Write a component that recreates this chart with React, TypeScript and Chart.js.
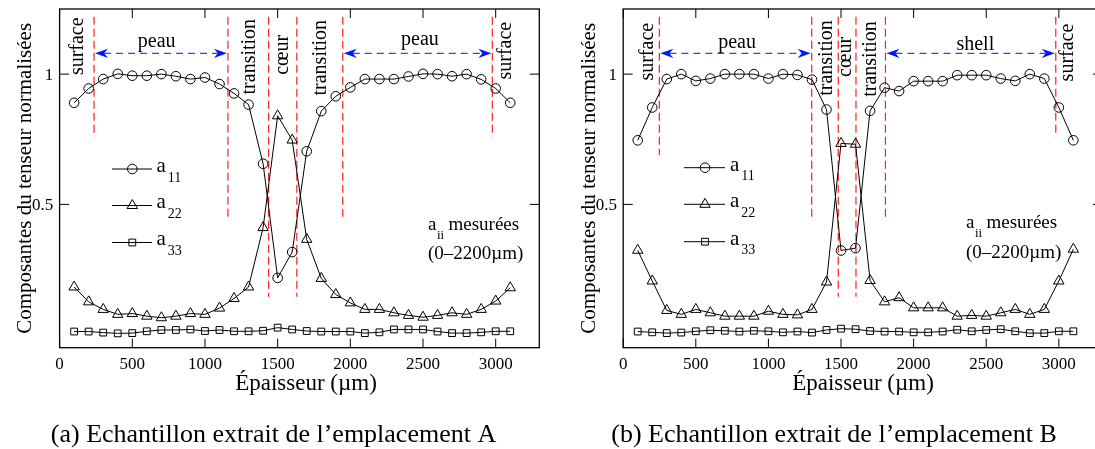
import React, { useEffect, useRef } from 'react';
import { Chart, registerables } from 'chart.js';
Chart.register(...registerables);

// ---------- data ----------
const thickness = [100, 200, 300, 400, 500, 600, 700, 800, 900, 1000, 1100, 1200, 1300, 1400, 1500, 1600,
  1700, 1800, 1900, 2000, 2100, 2200, 2300, 2400, 2500, 2600, 2700, 2800, 2900, 3000, 3100];

const a11A = [0.890, 0.945, 0.981, 1.001, 0.994, 0.994, 1.000, 0.992, 0.981, 0.987, 0.962, 0.926, 0.883, 0.656, 0.218, 0.317,
  0.704, 0.858, 0.915, 0.949, 0.981, 0.981, 0.981, 0.991, 1.001, 1.000, 0.992, 1.000, 0.980, 0.945, 0.890];
const a22A = [0.183, 0.126, 0.097, 0.078, 0.081, 0.071, 0.065, 0.071, 0.081, 0.078, 0.102, 0.139, 0.183, 0.411, 0.840, 0.747,
  0.366, 0.216, 0.154, 0.122, 0.097, 0.097, 0.084, 0.074, 0.067, 0.074, 0.084, 0.078, 0.097, 0.129, 0.180];
const a33A = [0.012, 0.012, 0.008, 0.005, 0.006, 0.013, 0.018, 0.018, 0.020, 0.014, 0.018, 0.013, 0.013, 0.015, 0.027, 0.020,
  0.014, 0.012, 0.012, 0.012, 0.006, 0.009, 0.020, 0.020, 0.020, 0.012, 0.006, 0.006, 0.009, 0.013, 0.013];

const a11B = [0.746, 0.872, 0.981, 1.000, 0.974, 0.983, 1.000, 1.000, 1.000, 0.983, 1.000, 0.997, 0.979, 0.864, 0.323, 0.332,
  0.859, 0.948, 0.935, 0.973, 0.973, 0.973, 0.996, 0.996, 0.996, 0.983, 0.974, 1.000, 0.983, 0.872, 0.746];
const a22B = [0.324, 0.206, 0.093, 0.078, 0.097, 0.084, 0.071, 0.071, 0.071, 0.090, 0.078, 0.076, 0.097, 0.202, 0.734, 0.731,
  0.208, 0.126, 0.142, 0.103, 0.103, 0.103, 0.071, 0.074, 0.071, 0.084, 0.097, 0.078, 0.097, 0.206, 0.328];
const a33B = [0.012, 0.009, 0.006, 0.008, 0.013, 0.017, 0.015, 0.012, 0.015, 0.013, 0.009, 0.012, 0.008, 0.018, 0.023, 0.021,
  0.014, 0.012, 0.012, 0.009, 0.009, 0.012, 0.019, 0.013, 0.018, 0.021, 0.013, 0.006, 0.006, 0.013, 0.013];

const xTicks = [0, 500, 1000, 1500, 2000, 2500, 3000];
const xTickLabels = ['0', '500', '1000', '1500', '2000', '2500', '3000'];
const yTicks = [0.5, 1];
const yTickLabels = ['0.5', '1'];
const seriesSubs = ['11', '22', '33'];
const seriesStyles = ['circle', 'triangle', 'rect'];

// zone boundaries (µm) and lower end of each dashed line
const boundsA = [237, 1158, 1438, 1632, 1948, 2977];
const lowsA = [0.759, 0.453, 0.146, 0.146, 0.453, 0.759];
const boundsB = [249, 1298, 1481, 1603, 1806, 2979];
const lowsB = [0.689, 0.453, 0.146, 0.146, 0.453, 0.759];

const FONT = '"Liberation Serif", "Times New Roman", Times, serif';
const X_MIN = 0, X_MAX = 3300, Y_MIN = -0.05, Y_MAX = 1.25;
const ZONE_TOP = 1.22;
const ARROW_Y = 1.08;

interface Panel {
  ox: number; width: number; padL: number; padR: number;
  a11: number[]; a22: number[]; a33: number[];
  bounds: number[]; lows: number[];
  arrows: number[][];
  rot: { t: string; x: number; y: number }[];
  hor: { t: string; x: number; y: number }[];
  leg: { x1: number; x2: number; xm: number; tx: number; rows: number[] };
  note: { x: number; y1: number; y2: number };
  yTitleX: number; xTitleX: number; cap: string; capX: number;
}

const panelA: Panel = {
  ox: 0, width: 548, padL: 59.6, padR: 8.7,
  a11: a11A, a22: a22A, a33: a33A,
  bounds: boundsA, lows: lowsA,
  arrows: [[0, 1], [4, 5]],
  rot: [
    { t: 'surface', x: 161, y: 1.107 },
    { t: 'transition', x: 1344, y: 1.067 },
    { t: 'cœur', x: 1571, y: 1.074 },
    { t: 'transition', x: 1833, y: 1.063 },
    { t: 'surface', x: 3105, y: 1.09 },
  ],
  hor: [
    { t: 'peau', x: 668, y: 1.106 },
    { t: 'peau', x: 2479, y: 1.112 },
  ],
  leg: { x1: 112, x2: 152, xm: 132.3, tx: 156.5, rows: [169, 205.5, 242.5] },
  note: { x: 428, y1: 230, y2: 259 },
  yTitleX: 31, xTitleX: 306, cap: '(a) Echantillon extrait de l’emplacement A', capX: 273.5,
};

const panelB: Panel = {
  ox: 548, width: 562, padL: 75.2, padR: 7.6,
  a11: a11B, a22: a22B, a33: a33B,
  bounds: boundsB, lows: lowsB,
  arrows: [[0, 1], [4, 5]],
  rot: [
    { t: 'surface', x: 202, y: 1.086 },
    { t: 'transition', x: 1438, y: 1.062 },
    { t: 'cœur', x: 1572, y: 1.066 },
    { t: 'transition', x: 1738, y: 1.058 },
    { t: 'surface', x: 3098, y: 1.083 },
  ],
  hor: [
    { t: 'peau', x: 784, y: 1.099 },
    { t: 'shell', x: 2425, y: 1.093 },
  ],
  leg: { x1: 684, x2: 725, xm: 705, tx: 730, rows: [167.7, 204.3, 241.7] },
  note: { x: 966, y1: 228, y2: 258 },
  yTitleX: 594.5, xTitleX: 863, cap: '(b) Echantillon extrait de l’emplacement B', capX: 834,
};

function drawMarker(ctx: CanvasRenderingContext2D, style: string, x: number, y: number) {
  ctx.beginPath();
  if (style === 'circle') {
    ctx.arc(x, y, 4.8, 0, Math.PI * 2);
  } else if (style === 'triangle') {
    const r = 6;
    ctx.moveTo(x, y - r);
    ctx.lineTo(x + r * 0.866, y + r * 0.5);
    ctx.lineTo(x - r * 0.866, y + r * 0.5);
    ctx.closePath();
  } else {
    const s = 4.8 * Math.SQRT1_2;
    ctx.rect(x - s, y - s, 2 * s, 2 * s);
  }
  ctx.stroke();
}

function arrowHead(ctx: CanvasRenderingContext2D, tipX: number, y: number, dir: number) {
  // dir = -1 points left, +1 points right
  const L = 13, H = 4.6, N = 9;
  ctx.beginPath();
  ctx.moveTo(tipX, y);
  ctx.lineTo(tipX - dir * L, y - H);
  ctx.lineTo(tipX - dir * N, y);
  ctx.lineTo(tipX - dir * L, y + H);
  ctx.closePath();
  ctx.fill();
}

function makePlugin(p: Panel) {
  return {
    id: 'decor',
    beforeDatasetsDraw(chart: any) {
      const ctx: CanvasRenderingContext2D = chart.ctx;
      const xs = chart.scales.x, ys = chart.scales.y;
      ctx.save();
      // red dashed zone lines
      ctx.strokeStyle = 'rgb(255,30,30)';
      ctx.lineWidth = 1.2;
      ctx.setLineDash([8, 4]);
      p.bounds.forEach((b, i) => {
        const px = xs.getPixelForValue(b);
        ctx.beginPath();
        ctx.moveTo(px, ys.getPixelForValue(ZONE_TOP));
        ctx.lineTo(px, ys.getPixelForValue(p.lows[i]));
        ctx.stroke();
      });
      // blue arrows
      ctx.strokeStyle = 'rgb(40,70,255)';
      ctx.fillStyle = 'rgb(0,20,255)';
      ctx.lineWidth = 1.2;
      const ay = ys.getPixelForValue(ARROW_Y);
      p.arrows.forEach(([i0, i1]) => {
        const x0 = xs.getPixelForValue(p.bounds[i0]) + 1;
        const x1 = xs.getPixelForValue(p.bounds[i1]) - 1;
        ctx.setLineDash([7, 5]);
        ctx.beginPath();
        ctx.moveTo(x0 + 9, ay);
        ctx.lineTo(x1 - 9, ay);
        ctx.stroke();
        ctx.setLineDash([]);
        arrowHead(ctx, x0, ay, -1);
        arrowHead(ctx, x1, ay, 1);
      });
      // zone labels
      ctx.fillStyle = '#000';
      ctx.font = `20px ${FONT}`;
      ctx.textBaseline = 'alphabetic';
      ctx.textAlign = 'center';
      p.rot.forEach((l) => {
        ctx.save();
        ctx.translate(xs.getPixelForValue(l.x), ys.getPixelForValue(l.y));
        ctx.rotate(-Math.PI / 2);
        ctx.fillText(l.t, 0, 0);
        ctx.restore();
      });
      p.hor.forEach((l) => {
        ctx.fillText(l.t, xs.getPixelForValue(l.x), ys.getPixelForValue(l.y));
      });
      ctx.restore();
    },
    afterDraw(chart: any) {
      const ctx: CanvasRenderingContext2D = chart.ctx;
      const xs = chart.scales.x, ys = chart.scales.y;
      const { left, right, top, bottom } = chart.chartArea;
      const o = p.ox;
      ctx.save();
      ctx.strokeStyle = '#000';
      ctx.fillStyle = '#000';
      ctx.setLineDash([]);
      // frame
      ctx.lineWidth = 1.3;
      ctx.strokeRect(left, top, right - left, bottom - top);
      // inward ticks
      ctx.lineWidth = 1;
      ctx.beginPath();
      xTicks.forEach((v) => {
        const px = xs.getPixelForValue(v);
        ctx.moveTo(px, bottom); ctx.lineTo(px, bottom - 9);
        ctx.moveTo(px, top); ctx.lineTo(px, top + 9);
      });
      yTicks.forEach((v) => {
        const py = ys.getPixelForValue(v);
        ctx.moveTo(left, py); ctx.lineTo(left + 9.5, py);
        ctx.moveTo(right, py); ctx.lineTo(right - 9.5, py);
      });
      ctx.stroke();
      // tick labels
      ctx.font = `17px ${FONT}`;
      ctx.textBaseline = 'alphabetic';
      ctx.textAlign = 'center';
      xTicks.forEach((v, i) => ctx.fillText(xTickLabels[i], xs.getPixelForValue(v), 368.5));
      ctx.textAlign = 'right';
      yTicks.forEach((v, i) => ctx.fillText(yTickLabels[i], left - 6.3, ys.getPixelForValue(v) + 5.8));
      // axis titles
      ctx.textAlign = 'center';
      ctx.font = `23px ${FONT}`;
      ctx.fillText('Épaisseur (µm)', p.xTitleX - o, 390);
      ctx.save();
      ctx.font = `21px ${FONT}`;
      ctx.translate(p.yTitleX - o, (top + bottom) / 2);
      ctx.rotate(-Math.PI / 2);
      ctx.fillText('Composantes du tenseur normalisées', 0, 0);
      ctx.restore();
      // caption
      ctx.font = `26px ${FONT}`;
      ctx.fillText(p.cap, p.capX - o, 441.7);
      // legend
      const L = p.leg;
      ctx.textAlign = 'left';
      L.rows.forEach((ry, i) => {
        ctx.lineWidth = 1;
        ctx.beginPath();
        ctx.moveTo(L.x1 - o, ry); ctx.lineTo(L.x2 - o, ry);
        ctx.stroke();
        drawMarker(ctx, seriesStyles[i], L.xm - o, ry);
        ctx.font = `21px ${FONT}`;
        ctx.fillText('a', L.tx - o, ry + 2.8);
        const w = ctx.measureText('a').width;
        ctx.font = `14px ${FONT}`;
        ctx.fillText(seriesSubs[i], L.tx - o + w + 2, ry + 12.7);
      });
      // note
      const N = p.note;
      ctx.font = `19px ${FONT}`;
      ctx.fillText('a', N.x - o, N.y1);
      const wa = ctx.measureText('a').width;
      ctx.font = `13px ${FONT}`;
      ctx.fillText('ii', N.x - o + wa + 0.5, N.y1 + 9);
      ctx.font = `19px ${FONT}`;
      ctx.fillText('mesurées', N.x - o + 20.5, N.y1);
      ctx.fillText('(0–2200µm)', N.x - o, N.y2);
      ctx.restore();
    },
  };
}

function makeConfig(p: Panel): any {
  const mk = (vals: number[]) => thickness.map((t, i) => ({ x: t, y: vals[i] }));
  const common = {
    borderColor: '#000', borderWidth: 1, pointBorderColor: '#000', pointBackgroundColor: 'rgba(0,0,0,0)',
    pointBorderWidth: 1, tension: 0, fill: false, showLine: true,
  };
  return {
    type: 'line',
    data: {
      datasets: [
        { ...common, label: 'a11', data: mk(p.a11), pointStyle: 'circle', pointRadius: 4.8 },
        { ...common, label: 'a22', data: mk(p.a22), pointStyle: 'triangle', pointRadius: 6 },
        { ...common, label: 'a33', data: mk(p.a33), pointStyle: 'rect', pointRadius: 4.8 },
      ],
    },
    options: {
      responsive: false,
      animation: false,
      events: [],
      layout: { padding: { left: p.padL, right: p.padR, top: 9, bottom: 449 - 347.7 } },
      scales: {
        x: { type: 'linear', min: X_MIN, max: X_MAX, display: false },
        y: { type: 'linear', min: Y_MIN, max: Y_MAX, display: false },
      },
      plugins: { legend: { display: false }, tooltip: { enabled: false } },
    },
    plugins: [makePlugin(p)],
  };
}

export default function App() {
  const r1 = useRef<HTMLCanvasElement>(null);
  const r2 = useRef<HTMLCanvasElement>(null);
  useEffect(() => {
    const c1 = new Chart(r1.current as HTMLCanvasElement, makeConfig(panelA));
    const c2 = new Chart(r2.current as HTMLCanvasElement, makeConfig(panelB));
    return () => { c1.destroy(); c2.destroy(); };
  }, []);
  return (
    <div style={{ position: 'fixed', left: 0, top: 0, width: 1095, height: 449, overflow: 'hidden', background: '#fff' }}>
      <canvas ref={r1} width={panelA.width} height={449}
        style={{ position: 'absolute', left: panelA.ox, top: 0, width: panelA.width, height: 449 }} />
      <canvas ref={r2} width={panelB.width} height={449}
        style={{ position: 'absolute', left: panelB.ox, top: 0, width: panelB.width, height: 449 }} />
    </div>
  );
}
